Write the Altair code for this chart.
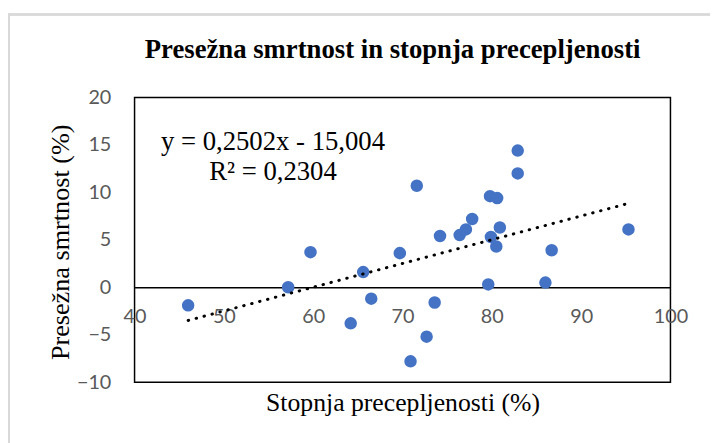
import altair as alt
import pandas as pd

# Data
x_vals = [46.0, 57.2, 59.7, 64.2, 65.6, 66.5, 69.7, 70.9, 71.6, 72.7,
          73.6, 74.2, 76.4, 77.1, 77.8, 79.6, 79.8, 79.9, 80.5, 80.6,
          80.9, 82.9, 82.9, 86.0, 86.7, 95.3]
y_vals = [-1.9, 0.0, 3.7, -3.8, 1.6, -1.2, 3.6, -7.8, 10.7, -5.2,
          -1.6, 5.4, 5.5, 6.1, 7.2, 0.3, 9.6, 5.3, 4.3, 9.4,
          6.3, 14.4, 12.0, 0.5, 3.9, 6.1]

slope = 0.2502
intercept = -15.004
r_squared = 0.2304

x_ticks = [40, 50, 60, 70, 80, 90, 100]
y_ticks = [-10, -5, 0, 5, 10, 15, 20]

title_text = "Presežna smrtnost in stopnja precepljenosti"
x_title = "Stopnja precepljenosti (%)"
y_title = "Presežna smrtnost (%)"
eq_lines = ["y = 0,2502x - 15,004", "R² = 0,2304"]

df = pd.DataFrame({"x": x_vals, "y": y_vals})

W, H = 542, 288
SERIF = "Liberation Serif"
SANS = "Lato"

xscale = alt.Scale(domain=[40, 100], nice=False, zero=False)
yscale = alt.Scale(domain=[-10, 20], nice=False, zero=False)

x_enc = alt.X(
    "x:Q", scale=xscale,
    axis=alt.Axis(
        values=x_ticks, offset=-96, ticks=False, grid=False,
        domain=True, domainColor="black", domainWidth=1.5,
        labelFont=SANS, labelFontSize=20, labelColor="#595959",
        labelPadding=20, labelFlush=False, labelOverlap=False,
        title=x_title, titleFont=SERIF, titleFontSize=26,
        titleFontWeight="normal", titleColor="black",
        titleY=125, titleBaseline="alphabetic",
    ),
)
y_enc = alt.Y(
    "y:Q", scale=yscale,
    axis=alt.Axis(
        values=y_ticks, ticks=False, grid=False, domain=False,
        labelFont=SANS, labelFontSize=20, labelColor="#595959",
        labelPadding=24, labelOverlap=False,
        title=y_title, titleFont=SERIF, titleFontSize=26.5,
        titleFontWeight="normal", titleColor="black",
        titleX=-67, titleY=146, titleAlign="center",
        titleBaseline="alphabetic", titleAngle=270,
    ),
)

base = alt.Chart(df)

points = base.mark_circle(size=160, color="#4472C4", opacity=1).encode(
    x=x_enc, y=y_enc
)

trend = base.transform_calculate(
    trend=f"{slope} * datum.x + ({intercept})"
).mark_line(
    color="black", strokeWidth=3, strokeDash=[0.5, 7.8], strokeCap="round"
).encode(x="x:Q", y="trend:Q")

eq_text = alt.Chart(pd.DataFrame({"t": ["\n".join(eq_lines)]})).mark_text(
    font=SERIF, fontSize=27, color="black", align="center",
    baseline="alphabetic", lineBreak="\n", lineHeight=30,
).encode(x=alt.value(140), y=alt.value(53), text="t:N")

border_v = alt.Chart(df).mark_rule(color="#d9d9d9", strokeWidth=1.5).encode(
    x=alt.value(-127.5), y=alt.value(-84), y2=alt.value(400)
)
border_h = alt.Chart(df).mark_rule(color="#d9d9d9", strokeWidth=1.5).encode(
    x=alt.value(-128), x2=alt.value(600), y=alt.value(-84)
)

chart = alt.layer(border_v, border_h, points, trend, eq_text).properties(
    width=W, height=H,
    title=alt.TitleParams(
        title_text, font=SERIF, fontSize=27, fontWeight="bold",
        color="black", anchor="middle", baseline="alphabetic",
        frame="group", offset=-72, dx=-10,
    ),
    autosize=alt.AutoSizeParams(type="none"),
    padding={"left": 128, "top": 88, "right": 40, "bottom": 59},
).configure_view(stroke="black", strokeWidth=1.5)

chart.save("out.html", embed_options={"renderer": "svg", "actions": False})
